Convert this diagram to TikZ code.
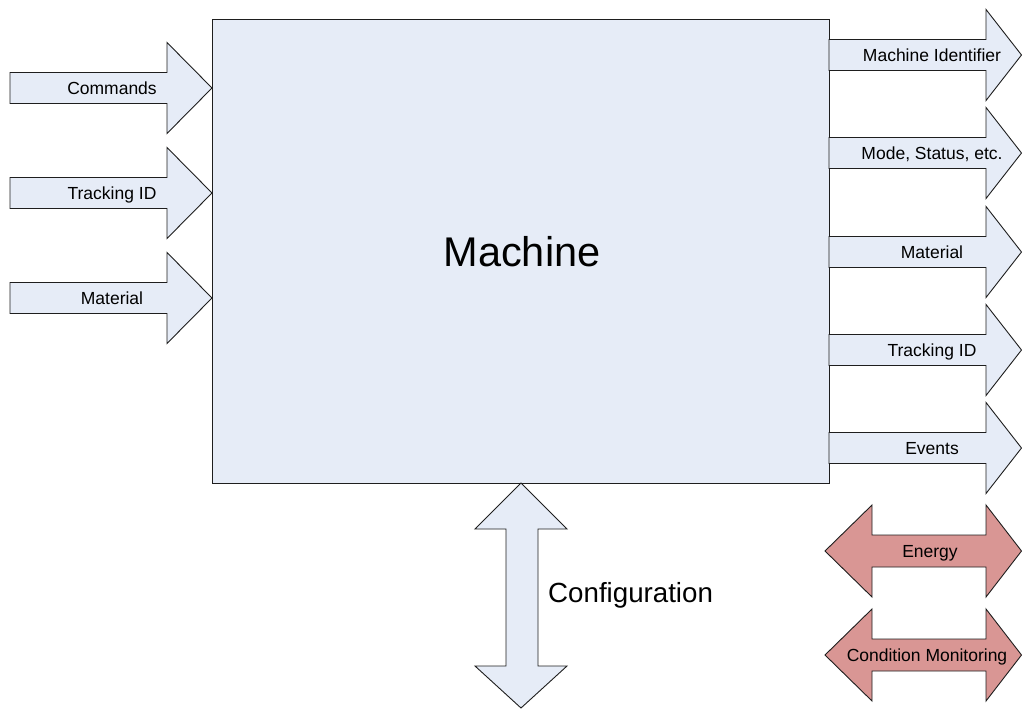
\documentclass[tikz,border=0pt]{standalone}
\usepackage{fontspec}
\setmainfont{Liberation Sans}
\definecolor{boxblue}{RGB}{230,236,247}
\definecolor{boxred}{RGB}{217,150,148}
\definecolor{edge}{RGB}{30,30,30}
% right-pointing block arrow: x0, head base, tip, y centre, style
\newcommand\myRArrow[5]{%
  \draw[#5] (#1,{#4-15.5}) -- (#2,{#4-15.5}) -- (#2,{#4-45.5}) -- (#3,#4)
    -- (#2,{#4+45.5}) -- (#2,{#4+15.5}) -- (#1,{#4+15.5}) -- cycle;}
% two-headed block arrow: left tip, left base, right base, right tip, y centre, style
\newcommand\myDArrow[6]{%
  \draw[#6] (#1,#5) -- (#2,{#5-46}) -- (#2,{#5-16}) -- (#3,{#5-16}) -- (#3,{#5-46})
    -- (#4,#5) -- (#3,{#5+46}) -- (#3,{#5+16}) -- (#2,{#5+16}) -- (#2,{#5+46}) -- cycle;}
\begin{document}
\begin{tikzpicture}[x=1pt,y=-1pt,
  blockshape/.style={draw=edge, line width=0.9pt, fill=boxblue, line join=miter},
  redshape/.style={blockshape, fill=boxred},
  lbl/.style={font=\fontsize{17.5}{20}\selectfont, inner sep=0pt, text height=12.6pt, text depth=0pt},
  biglbl/.style={font=\fontsize{41.5}{46}\selectfont, inner sep=0pt, text height=29.7pt, text depth=0pt},
  midlbl/.style={font=\fontsize{27.7}{31}\selectfont, inner sep=0pt, text height=19.8pt, text depth=0pt}]
\useasboundingbox (0,0) rectangle (1022,709);
% machine box
\node[blockshape, minimum width=617pt, minimum height=464pt, anchor=north west, inner sep=0pt] (machine) at (212,19) {};
\node[biglbl] (machinelbl) at (522,252) {Machine};
% inputs
\myRArrow{10}{167}{212}{88}{blockshape}
\myRArrow{10}{167}{212}{193}{blockshape}
\myRArrow{10}{167}{212}{298}{blockshape}
\node[lbl] (in1) at (112,88) {Commands};
\node[lbl] (in2) at (112,193) {Tracking ID};
\node[lbl] (in3) at (112,298) {Material};
% outputs
\myRArrow{829}{986}{1021.5}{55}{blockshape}
\myRArrow{829}{986}{1021.5}{153}{blockshape}
\myRArrow{829}{986}{1021.5}{252}{blockshape}
\myRArrow{829}{986}{1021.5}{350}{blockshape}
\myRArrow{829}{986}{1021.5}{448}{blockshape}
\node[lbl] (out1) at (932,55) {Machine Identifier};
\node[lbl] (out2) at (932,153) {Mode, Status, etc.};
\node[lbl] (out3) at (932,252) {Material};
\node[lbl] (out4) at (932,350) {Tracking ID};
\node[lbl] (out5) at (932,448) {Events};
% two-way red arrows
\myDArrow{825}{872}{986}{1021.5}{551}{redshape}
\myDArrow{825}{872}{986}{1021.5}{655}{redshape}
\node[lbl] (energy) at (930,551) {Energy};
\node[lbl] (cm) at (927,655) {Condition Monitoring};
% configuration arrow
\draw[blockshape] (521,483) -- (567,529) -- (538,529) -- (538,666) -- (567,666) -- (521,708)
  -- (475,666) -- (506,666) -- (506,529) -- (475,529) -- cycle;
\node[midlbl, anchor=west] (config) at (548,593) {Configuration};
\end{tikzpicture}
\end{document}
